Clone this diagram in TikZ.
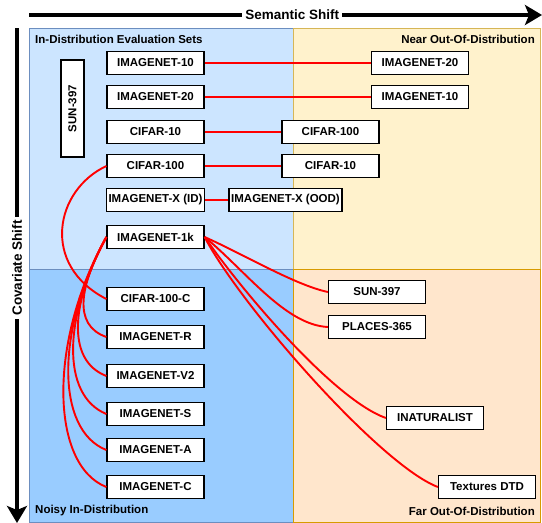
\documentclass[tikz,border=0pt]{standalone}
\usepackage{fontspec}
\setmainfont{Liberation Sans}
\usepackage{tikz}
\usetikzlibrary{arrows.meta}
\definecolor{idblue}{HTML}{CCE5FF}
\definecolor{idline}{HTML}{6C8EBF}
\definecolor{noisyblue}{HTML}{99CCFF}
\definecolor{nearyellow}{HTML}{FFF2CC}
\definecolor{nearline}{HTML}{D6B656}
\definecolor{farorange}{HTML}{FFE6CC}
\definecolor{farline}{HTML}{D79B00}

\begin{document}
\begin{tikzpicture}[x=1pt,y=-1pt,
			mynode/.style={draw, fill=white, minimum width=97, minimum height=23, inner sep=2pt, line width=1.2pt, font=\fontsize{11.5}{13}\selectfont\bfseries},
			mylabel/.style={inner sep=0pt, font=\fontsize{11.5}{13}\selectfont\bfseries},
			redline/.style={red, line width=1.9pt},
			shiftarrow/.style={line width=4pt, -{Stealth[length=17pt, width=20pt, inset=4pt]}}
		]
		\useasboundingbox (0,0) rectangle (542,523);

		\draw[fill=idblue, draw=idline, line width=1pt] (29,28) rectangle (293,269);
		\draw[fill=noisyblue, draw=idline, line width=1pt] (29,269) rectangle (293,522);
		\draw[fill=nearyellow, draw=nearline, line width=1pt] (293,28) rectangle (540,269);
		\draw[fill=farorange, draw=farline, line width=1pt] (293,269) rectangle (540,522);

		\node[mylabel, anchor=west] (idlbl) at (35,39) {In-Distribution Evaluation Sets};
		\node[mylabel, anchor=east] (nearlbl) at (535,39) {Near Out-Of-Distribution};
		\node[mylabel, anchor=west] (noisylbl) at (35,511) {Noisy In-Distribution};
		\node[mylabel, anchor=east] (farlbl) at (535,511) {Far Out-Of-Distribution};

		\coordinate (semL) at (29,15);
		\coordinate (semR) at (542,15);
		\draw[shiftarrow] (semL) -- node[pos=0.513, fill=white, inner sep=3pt, font=\fontsize{13.5}{15}\selectfont\bfseries] (semlbl) {Semantic Shift} (semR);

		\coordinate (covT) at (17,28);
		\coordinate (covB) at (17,523);
		\draw[shiftarrow] (covT) -- node[pos=0.485, fill=white, inner sep=3pt, rotate=90, font=\fontsize{13.5}{15}\selectfont\bfseries] (covlbl) {Covariate Shift} (covB);

		\node[mynode, rotate=90] (sunv) at (72.5,108.5) {SUN-397};

		\node[mynode] (in10) at (155.5,63) {IMAGENET-10};
		\node[mynode] (in20) at (155.5,97) {IMAGENET-20};
		\node[mynode] (c10) at (155.5,132) {CIFAR-10};
		\node[mynode] (c100) at (155.5,166) {CIFAR-100};
		\node[mynode] (inx) at (155.5,200) {IMAGENET-X (ID)};
		\node[mynode] (in1k) at (155.5,237) {IMAGENET-1k};

		\node[mynode] (c100c) at (155.5,299) {CIFAR-100-C};
		\node[mynode] (inr) at (155.5,337) {IMAGENET-R};
		\node[mynode] (inv2) at (155.5,376) {IMAGENET-V2};
		\node[mynode] (ins) at (155.5,414) {IMAGENET-S};
		\node[mynode] (ina) at (155.5,450) {IMAGENET-A};
		\node[mynode] (inc) at (155.5,487) {IMAGENET-C};

		\node[mynode] (o20) at (420,63) {IMAGENET-20};
		\node[mynode] (o10) at (420,97) {IMAGENET-10};
		\node[mynode] (oc100) at (330.5,132) {CIFAR-100};
		\node[mynode] (oc10) at (330.5,166) {CIFAR-10};
		\node[mynode, minimum width=113] (oinx) at (285.5,200) {IMAGENET-X (OOD)};

		\node[mynode] (osun) at (377,292) {SUN-397};
		\node[mynode] (oplaces) at (377,327) {PLACES-365};
		\node[mynode] (oinat) at (435,418) {INATURALIST};
		\node[mynode] (odtd) at (487,487) {Textures DTD};

		\draw[redline] (in10.east) -- (o20.west);
		\draw[redline] (in20.east) -- (o10.west);
		\draw[redline] (c10.east) -- (oc100.west);
		\draw[redline] (c100.east) -- (oc10.west);
		\draw[redline] (inx.east) -- (oinx.west);

		\draw[redline] (c100.west) .. controls (55,190) and (40,265) .. (c100c.west);
		\draw[redline] (in1k.west) .. controls (80,285) and (72,325) .. (inr.west);
		\draw[redline] (in1k.west) .. controls (72,300) and (65,360) .. (inv2.west);
		\draw[redline] (in1k.west) .. controls (64,315) and (60,395) .. (ins.west);
		\draw[redline] (in1k.west) .. controls (56,328) and (55,430) .. (ina.west);
		\draw[redline] (in1k.west) .. controls (48,341) and (50,465) .. (inc.west);

		\draw[redline] (in1k.east) .. controls (245,255) and (295,285) .. (osun.west);
		\draw[redline] (in1k.east) .. controls (245,270) and (285,325) .. (oplaces.west);
		\draw[redline] (in1k.east) .. controls (245,295) and (335,400) .. (oinat.west);
		\draw[redline] (in1k.east) .. controls (240,305) and (380,465) .. (odtd.west);

	\end{tikzpicture}
\end{document}
